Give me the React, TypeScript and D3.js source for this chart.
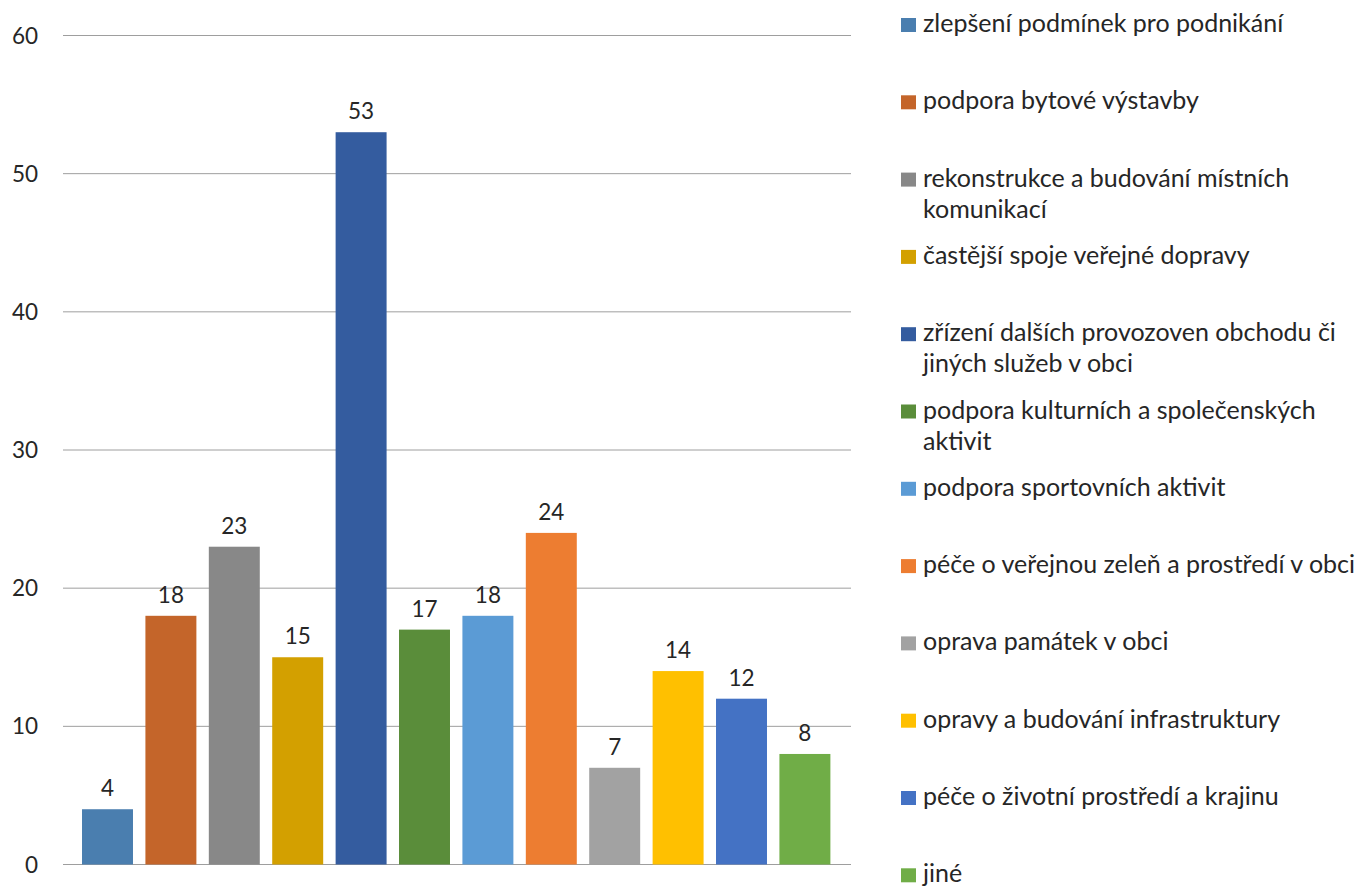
import React, { useEffect, useRef } from "react";
import * as d3 from "d3";

const categories: string[] = [
  "zlepšení podmínek pro podnikání",
  "podpora bytové výstavby",
  "rekonstrukce a budování místních komunikací",
  "častější spoje veřejné dopravy",
  "zřízení dalších provozoven obchodu či jiných služeb v obci",
  "podpora kulturních a společenských aktivit",
  "podpora sportovních aktivit",
  "péče o veřejnou zeleň a prostředí v obci",
  "oprava památek v obci",
  "opravy a budování infrastruktury",
  "péče o životní prostředí a krajinu",
  "jiné",
];
const values: number[] = [4, 18, 23, 15, 53, 17, 18, 24, 7, 14, 12, 8];
const colors: string[] = [
  "#4A7EAF", "#C4652A", "#888888", "#D3A000", "#345C9F", "#5A8D3A",
  "#5B9BD5", "#ED7D31", "#A2A2A2", "#FFC000", "#4472C4", "#70AD47",
];
const yTicks: number[] = [0, 10, 20, 30, 40, 50, 60];

const W = 1358;
const H = 886;
const FONT = "Lato, 'Open Sans', sans-serif";
const FS_NUM = 22.5;
const FS_LEG = 25;

export default function App() {
  const ref = useRef<SVGSVGElement>(null);
  useEffect(() => {
    const svg = d3.select(ref.current);
    svg.selectAll("*").remove();

    const y = d3.scaleLinear().domain([0, 60]).range([864.5, 35.5]);
    const x = d3
      .scaleBand<string>()
      .domain(categories)
      .range([75.8, 836.6])
      .paddingInner(0.196)
      .paddingOuter(0.098);

    svg
      .append("g")
      .selectAll("line")
      .data(yTicks)
      .join("line")
      .attr("x1", 63)
      .attr("x2", 851)
      .attr("y1", (d) => y(d))
      .attr("y2", (d) => y(d))
      .attr("stroke", "#9E9E9E")
      .attr("stroke-width", 1);

    svg
      .append("g")
      .selectAll("text")
      .data(yTicks)
      .join("text")
      .attr("x", 38)
      .attr("y", (d) => y(d))
      .attr("dy", "0.36em")
      .attr("text-anchor", "end")
      .attr("font-family", FONT)
      .attr("font-size", FS_NUM)
      .attr("fill", "#262626")
      .text((d) => String(d));

    svg
      .append("g")
      .selectAll("rect")
      .data(values)
      .join("rect")
      .attr("x", (_, i) => x(categories[i]) as number)
      .attr("width", x.bandwidth())
      .attr("y", (d) => y(d))
      .attr("height", (d) => y(0) - y(d))
      .attr("fill", (_, i) => colors[i]);

    svg
      .append("g")
      .selectAll("text")
      .data(values)
      .join("text")
      .attr("x", (_, i) => (x(categories[i]) as number) + x.bandwidth() / 2)
      .attr("y", (d) => y(d) - 13)
      .attr("text-anchor", "middle")
      .attr("font-family", FONT)
      .attr("font-size", FS_NUM)
      .attr("fill", "#262626")
      .text((d) => String(d));

    // legend
    const legend = svg.append("g");
    const step = 77.3;
    const maxW = 440;
    categories.forEach((c, i) => {
      const base = 32 + i * step;
      legend
        .append("rect")
        .attr("x", 901)
        .attr("y", base - 14)
        .attr("width", 15)
        .attr("height", 14)
        .attr("fill", colors[i]);
      const t = legend
        .append("text")
        .attr("x", 923)
        .attr("y", base)
        .attr("font-family", FONT)
        .attr("font-size", FS_LEG)
        .attr("fill", "#262626");
      const words = c.split(" ");
      let line: string[] = [];
      let lineNo = 0;
      let tspan = t.append("tspan").attr("x", 923).attr("y", base);
      words.forEach((w) => {
        line.push(w);
        tspan.text(line.join(" "));
        const node = tspan.node() as SVGTSpanElement;
        if (node.getComputedTextLength() > maxW && line.length > 1) {
          line.pop();
          tspan.text(line.join(" "));
          line = [w];
          lineNo += 1;
          tspan = t
            .append("tspan")
            .attr("x", 923)
            .attr("y", base + lineNo * 31)
            .text(w);
        }
      });
    });
  }, []);
  return (
    <svg
      ref={ref}
      width={W}
      height={H}
      style={{ position: "absolute", left: 0, top: 0, background: "#fff" }}
    />
  );
}
